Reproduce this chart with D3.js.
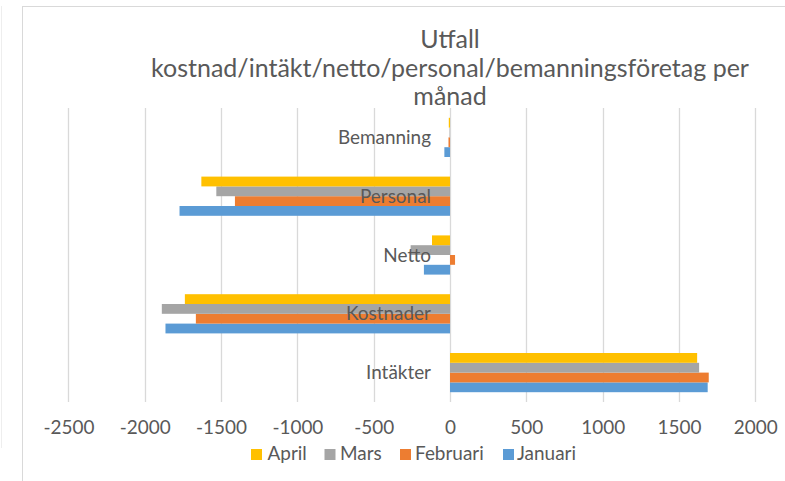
<!DOCTYPE html>
<html>
<head>
<meta charset="utf-8">
<script src="https://cdn.jsdelivr.net/npm/d3@7"></script>
<style>
  html, body { margin: 0; padding: 0; background: #fff; }
  svg { display: block; }
  text { font-family: Lato, "Open Sans", sans-serif; fill: #595959; }
</style>
</head>
<body>
<svg id="chart" width="785" height="481"></svg>
<script>
// ---- data ----
const categories = ["Intäkter", "Kostnader", "Netto", "Personal", "Bemanning"];
const seriesNames = ["Januari", "Februari", "Mars", "April"];
const januari  = [1688, -1864, -171, -1772, -37];
const februari = [1695, -1665,   33, -1409, -10];
const mars     = [1632, -1888, -258, -1531,  -3];
const april    = [1619, -1737, -118, -1629,  -8];
const xTicks = [-2500, -2000, -1500, -1000, -500, 0, 500, 1000, 1500, 2000];
const titleLines = ["Utfall", "kostnad/intäkt/netto/personal/bemanningsföretag per", "månad"];
const legendOrder = ["April", "Mars", "Februari", "Januari"];

const seriesValues = { "Januari": januari, "Februari": februari, "Mars": mars, "April": april };
const colors = { "Januari": "#5B9BD5", "Februari": "#ED7D31", "Mars": "#A5A5A5", "April": "#FFC000" };

const svg = d3.select("#chart");

// font-size calibration so the substitute font matches the original widths
function fitSize(str, targetWidth, base) {
  const t = svg.append("text").style("font-size", base + "px").text(str);
  const w = t.node().getComputedTextLength();
  t.remove();
  return base * targetWidth / w;
}
const bodySize = fitSize("Januari", 59, 20);
const titleSize = fitSize(titleLines[1], 598, 28);

// ---- frame ----
svg.append("line").attr("x1", 1.5).attr("x2", 1.5).attr("y1", 6).attr("y2", 448)
  .attr("stroke", "#eeeeee").attr("stroke-width", 1);
svg.append("rect").attr("x", 22.5).attr("y", 6.5).attr("width", 800).attr("height", 500)
  .attr("fill", "none").attr("stroke", "#d9d9d9").attr("stroke-width", 1);

// ---- scales ----
const x = d3.scaleLinear().domain([-2500, 2000]).range([68.4, 755.3]);
const plotTop = 108, plotBottom = 402;
const y = d3.scaleBand().domain(categories).range([plotBottom, plotTop]).padding(0);
const bw = y.bandwidth();
const ySub = d3.scaleBand().domain(["April", "Mars", "Februari", "Januari"])
  .range([bw / 6, bw * 5 / 6]).padding(0);

// ---- gridlines ----
svg.append("g").selectAll("line").data(xTicks).join("line")
  .attr("x1", d => Math.round(x(d)) + 0.5).attr("x2", d => Math.round(x(d)) + 0.5)
  .attr("y1", plotTop).attr("y2", plotBottom)
  .attr("stroke", "#d9d9d9").attr("stroke-width", 1.3);

// ---- bars ----
const barData = [];
categories.forEach((c, i) => {
  seriesNames.forEach(s => barData.push({ cat: c, series: s, value: seriesValues[s][i] }));
});
svg.append("g").selectAll("rect").data(barData).join("rect")
  .attr("x", d => x(Math.min(0, d.value)))
  .attr("width", d => Math.abs(x(d.value) - x(0)))
  .attr("y", d => y(d.cat) + ySub(d.series))
  .attr("height", ySub.bandwidth())
  .attr("fill", d => colors[d.series]);

// ---- x axis labels ----
const xAxis = d3.axisBottom(x).tickValues(xTicks).tickSize(0).tickPadding(0)
  .tickFormat(d => d < 0 ? "-" + Math.abs(d) : String(d));
const gx = svg.append("g").attr("transform", "translate(0,420)").call(xAxis);
gx.select(".domain").remove();
gx.selectAll("text").attr("dy", null).attr("y", 14)
  .style("font-size", bodySize + "px").style("font-family", "Lato, sans-serif").attr("fill", "#595959");

// ---- category labels ----
const yAxis = d3.axisLeft(y).tickSize(0).tickPadding(0);
const gy = svg.append("g").attr("transform", `translate(${x(0) - 19},0)`).call(yAxis);
gy.select(".domain").remove();
gy.selectAll("text").attr("dy", null).attr("y", 6.5).attr("x", 0)
  .style("font-size", bodySize + "px").style("font-family", "Lato, sans-serif").attr("fill", "#595959");

// ---- title ----
const titleBaselines = [48, 77, 105];
svg.append("g").selectAll("text").data(titleLines).join("text")
  .attr("x", 450).attr("y", (d, i) => titleBaselines[i])
  .attr("text-anchor", "middle")
  .style("font-size", titleSize + "px")
  .text(d => d);

// ---- legend ----
const legendSquareX = [251, 324.5, 400, 503];
const legendTextX = [267.5, 340, 415, 517];
const lg = svg.append("g").selectAll("g").data(legendOrder).join("g");
lg.append("rect")
  .attr("x", (d, i) => legendSquareX[i]).attr("y", 449)
  .attr("width", 11).attr("height", 11)
  .attr("fill", d => colors[d]);
lg.append("text")
  .attr("x", (d, i) => legendTextX[i]).attr("y", 460)
  .style("font-size", bodySize + "px")
  .text(d => d);
</script>
</body>
</html>
